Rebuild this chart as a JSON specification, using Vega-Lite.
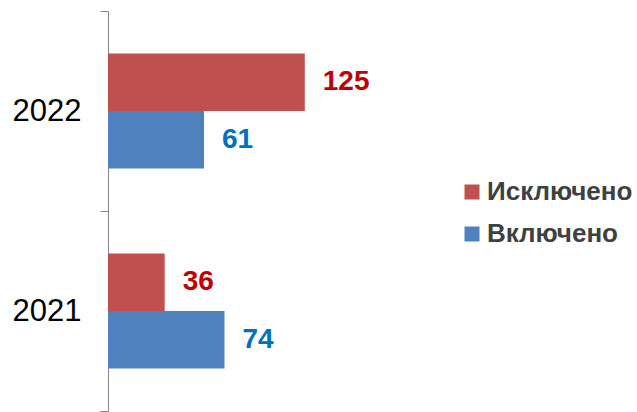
{
  "$schema": "https://vega.github.io/schema/vega-lite/v6.json",
  "autosize": {"type": "none"},
  "padding": {"left": 108, "top": 11, "right": 0, "bottom": 1},
  "width": 529,
  "height": 400,
  "background": "white",
  "config": {"view": {"stroke": null}, "font": "Liberation Sans"},
  "data": {
    "values": [
      {"year": "2022", "type": "Исключено", "value": 125},
      {"year": "2022", "type": "Включено", "value": 61},
      {"year": "2021", "type": "Исключено", "value": 36},
      {"year": "2021", "type": "Включено", "value": 74}
    ]
  },
  "encoding": {
    "y": {
      "field": "year",
      "type": "nominal",
      "sort": ["2022", "2021"],
      "scale": {"paddingInner": 0, "paddingOuter": 0},
      "axis": {
        "title": null,
        "tickBand": "extent",
        "domainColor": "#868686",
        "tickColor": "#868686",
        "tickSize": 8,
        "labelFontSize": 31,
        "labelColor": "#000000",
        "labelFont": "Liberation Sans",
        "labelPadding": 19
      }
    },
    "yOffset": {
      "field": "type",
      "sort": ["Исключено", "Включено"],
      "scale": {"paddingOuter": 0.74, "paddingInner": 0}
    },
    "x": {
      "field": "value",
      "type": "quantitative",
      "scale": {"domain": [0, 336], "nice": false},
      "axis": null
    }
  },
  "layer": [
    {
      "mark": {"type": "bar"},
      "encoding": {
        "color": {
          "field": "type",
          "type": "nominal",
          "scale": {"domain": ["Исключено", "Включено"], "range": ["#C0504D", "#4F81BD"]},
          "legend": {
            "title": null,
            "orient": "none",
            "legendX": 351,
            "legendY": 168,
            "padding": 0,
            "symbolType": "square",
            "symbolSize": 225,
            "symbolStrokeWidth": 0,
            "labelFontSize": 26,
            "labelFontWeight": "bold",
            "labelColor": "#404040",
            "labelFont": "Liberation Sans",
            "labelOffset": 2,
            "rowPadding": 16
          }
        }
      }
    },
    {
      "mark": {"type": "text", "align": "left", "baseline": "middle", "dx": 18, "fontSize": 28, "fontWeight": "bold", "font": "Liberation Sans"},
      "encoding": {
        "text": {"field": "value", "type": "quantitative"},
        "color": {
          "condition": {"test": "datum.type === 'Исключено'", "value": "#C00000"},
          "value": "#0070C0"
        }
      }
    }
  ]
}
